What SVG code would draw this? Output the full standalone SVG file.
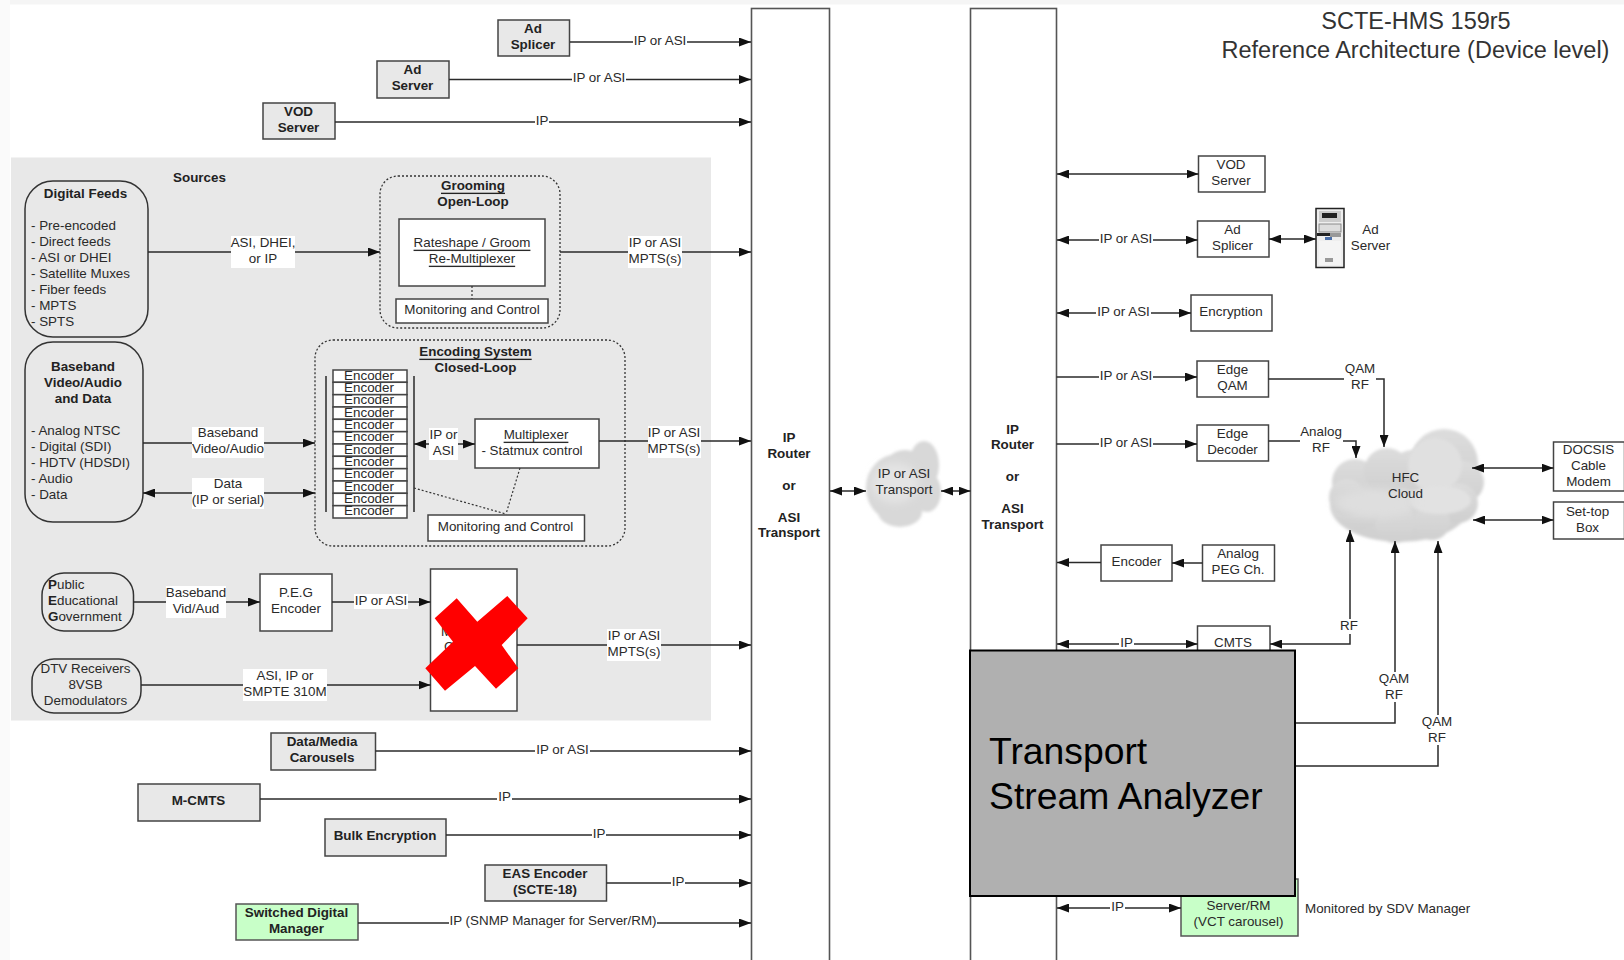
<svg xmlns="http://www.w3.org/2000/svg" width="1624" height="960" viewBox="0 0 1624 960">
<style>
text{font-family:"Liberation Sans",Arial,sans-serif;font-size:13.4px;fill:#2a2a2a;text-anchor:middle;dominant-baseline:central;transform:translateY(-.8px)}
.b{font-weight:700;fill:#222}
.u{text-decoration:underline}
.l{text-anchor:start}
.big{font-size:37.300px;fill:#000;transform:none}
.ttl{font-size:23.500px;fill:#333;transform:none}
.box{fill:#fff;stroke:#444;stroke-width:1.5}
.gbox{fill:#e8e8e8;stroke:#444;stroke-width:1.5}
.green{fill:#c8ffc8;stroke:#555;stroke-width:1.5}
.round{fill:#e8e8e8;stroke:#333;stroke-width:1.5}
.dash{fill:#e8e8e8;stroke:#333;stroke-width:1.3;stroke-dasharray:2 2}
.router{fill:#fff;stroke:#555;stroke-width:1.6}
.c{fill:none;stroke:#2a2a2a;stroke-width:1.5}
.a{marker-end:url(#ah)}
.d{marker-start:url(#ah);marker-end:url(#ah)}
.dot{fill:none;stroke:#333;stroke-width:1.2;stroke-dasharray:2 2}
.bg{fill:#fff}
</style>
<defs>
<marker id="ah" markerUnits="userSpaceOnUse" markerWidth="12" markerHeight="9" refX="12" refY="4.5" orient="auto-start-reverse"><path d="M0,0 L12,4.5 L0,9 z" fill="#111"/></marker>
<filter id="soft" x="-10%" y="-10%" width="120%" height="120%"><feGaussianBlur stdDeviation="1.4"/></filter>
<filter id="softer" x="-20%" y="-20%" width="140%" height="140%"><feGaussianBlur stdDeviation="4"/></filter>
<linearGradient id="cg" x1="0" y1="0" x2="0" y2="1"><stop offset="0" stop-color="#dcdcdc"/><stop offset="1" stop-color="#cfcfcf"/></linearGradient>
</defs>

<rect width="1624" height="960" fill="#fff"/>
<rect width="1624" height="4.500" fill="#f5f5f5"/>
<rect width="10" height="960" fill="#fafafa"/>
<rect id="sources-panel" x="11" y="157.500" width="700" height="563" fill="#e8e8e8"/>

<g id="routers">
<rect id="router-left" class="router" x="751.500" y="8.500" width="78" height="970"/>
<rect id="router-right" class="router" x="970.500" y="8.500" width="86" height="970"/>
<text class="b" x="789" y="438">IP</text><text class="b" x="789" y="454">Router</text><text class="b" x="789" y="486">or</text><text class="b" x="789" y="518">ASI</text><text class="b" x="789" y="533">Transport</text>
<text class="b" x="1012.500" y="430">IP</text><text class="b" x="1012.500" y="445">Router</text><text class="b" x="1012.500" y="477">or</text><text class="b" x="1012.500" y="509">ASI</text><text class="b" x="1012.500" y="525">Transport</text>
</g>

<g id="ad-splicer-left"><rect class="gbox" x="498" y="20" width="71.500" height="36"/><text class="b" x="533" y="29">Ad</text><text class="b" x="533" y="45">Splicer</text></g>
<g id="ad-server-left"><rect class="gbox" x="377" y="61" width="72" height="37"/><text class="b" x="412.500" y="70.500">Ad</text><text class="b" x="412.500" y="86.500">Server</text></g>
<g id="vod-server-left"><rect class="gbox" x="263" y="103" width="72" height="36"/><text class="b" x="298.500" y="112">VOD</text><text class="b" x="298.500" y="128">Server</text></g>

<text class="b" x="199.500" y="178">Sources</text>

<g id="digital-feeds"><rect class="round" x="25" y="181" width="123" height="156" rx="28"/>
<text class="b" x="85.500" y="194">Digital Feeds</text>
<text class="l" x="31" y="226">- Pre-encoded</text><text class="l" x="31" y="242">- Direct feeds</text><text class="l" x="31" y="258">- ASI or DHEI</text><text class="l" x="31" y="274">- Satellite Muxes</text><text class="l" x="31" y="290">- Fiber feeds</text><text class="l" x="31" y="306">- MPTS</text><text class="l" x="31" y="322">- SPTS</text></g>

<g id="grooming"><rect class="dash" x="380" y="176" width="180" height="152" rx="18"/>
<text class="b u" x="473" y="186">Grooming</text><text class="b" x="473" y="202">Open-Loop</text>
<rect class="box" x="399" y="219" width="146" height="67"/><text class="u" x="472" y="243">Rateshape / Groom</text><text class="u" x="472" y="259">Re-Multiplexer</text>
<rect class="box" x="396" y="299" width="152" height="24"/><text x="472" y="310">Monitoring and Control</text></g>

<g id="baseband"><rect class="round" x="25" y="342" width="118" height="180" rx="28"/>
<text class="b" x="83" y="367">Baseband</text><text class="b" x="83" y="383">Video/Audio</text><text class="b" x="83" y="399">and Data</text>
<text class="l" x="31" y="431">- Analog NTSC</text><text class="l" x="31" y="447">- Digital (SDI)</text><text class="l" x="31" y="463">- HDTV (HDSDI)</text><text class="l" x="31" y="479">- Audio</text><text class="l" x="31" y="495">- Data</text></g>

<g id="encoding-system"><rect class="dash" x="315" y="340" width="310" height="206" rx="18"/>
<text class="b u" x="475.500" y="352">Encoding System</text><text class="b" x="475.500" y="368">Closed-Loop</text>
<path class="c" d="M326,376V512M414,376V512"/>
<g id="encoders">
<rect class="box" x="333" y="370" width="74" height="12.300"/><text x="369" y="376">Encoder</text>
<rect class="box" x="333" y="382.300" width="74" height="12.300"/><text x="369" y="388.300">Encoder</text>
<rect class="box" x="333" y="394.700" width="74" height="12.300"/><text x="369" y="400.700">Encoder</text>
<rect class="box" x="333" y="407" width="74" height="12.300"/><text x="369" y="413">Encoder</text>
<rect class="box" x="333" y="419.300" width="74" height="12.300"/><text x="369" y="425.300">Encoder</text>
<rect class="box" x="333" y="431.700" width="74" height="12.300"/><text x="369" y="437.700">Encoder</text>
<rect class="box" x="333" y="444" width="74" height="12.300"/><text x="369" y="450">Encoder</text>
<rect class="box" x="333" y="456.300" width="74" height="12.300"/><text x="369" y="462.300">Encoder</text>
<rect class="box" x="333" y="468.700" width="74" height="12.300"/><text x="369" y="474.700">Encoder</text>
<rect class="box" x="333" y="481" width="74" height="12.300"/><text x="369" y="487">Encoder</text>
<rect class="box" x="333" y="493.300" width="74" height="12.300"/><text x="369" y="499.300">Encoder</text>
<rect class="box" x="333" y="505.700" width="74" height="12.300"/><text x="369" y="511.700">Encoder</text>
</g>
<rect class="box" x="475" y="419" width="124" height="49"/><text class="u" x="536" y="435">Multiplexer</text><text x="532" y="451">- Statmux control</text>
<rect class="box" x="428" y="515" width="156.500" height="26"/><text x="505.500" y="527">Monitoring and Control</text></g>

<g id="peg"><rect class="round" x="42" y="573" width="91.500" height="58" rx="22"/>
<text class="l" x="48" y="585"><tspan class="b">P</tspan>ublic</text><text class="l" x="48" y="601"><tspan class="b">E</tspan>ducational</text><text class="l" x="48" y="617"><tspan class="b">G</tspan>overnment</text></g>
<g id="peg-encoder"><rect class="box" x="260" y="574" width="72" height="57"/><text x="296" y="593">P.E.G</text><text x="296" y="609">Encoder</text></g>
<g id="dtv"><rect class="round" x="32" y="659" width="109" height="54" rx="22"/><text x="85.500" y="669">DTV Receivers</text><text x="85.500" y="685">8VSB</text><text x="85.500" y="701">Demodulators</text></g>
<g id="mux-crossed"><rect class="box" x="430.500" y="569" width="86.500" height="142"/><text class="l" x="441" y="632">M</text><text class="l" x="444" y="647">C</text>
<polygon fill="#f00" points="456.700,598.300 477.300,621.700 507.300,596 527.700,618.300 501.700,645 518.300,668.300 496,688.700 475,666 445,690.700 425.300,668.300 453,641.700 434.700,618.300"/></g>

<g id="data-media"><rect class="gbox" x="271" y="733" width="104.500" height="37"/><text class="b" x="322" y="742.500">Data/Media</text><text class="b" x="322" y="758">Carousels</text></g>
<g id="m-cmts"><rect class="gbox" x="138" y="784" width="122" height="37"/><text class="b" x="198.500" y="801">M-CMTS</text></g>
<g id="bulk-encryption"><rect class="gbox" x="325" y="819" width="121" height="37"/><text class="b" x="385" y="836">Bulk Encryption</text></g>
<g id="eas-encoder"><rect class="gbox" x="485" y="865" width="121.500" height="36"/><text class="b" x="545" y="874">EAS Encoder</text><text class="b" x="545" y="890">(SCTE-18)</text></g>
<g id="sdm"><rect class="green" x="236" y="904" width="122" height="36"/><text class="b" x="296.500" y="913">Switched Digital</text><text class="b" x="296.500" y="929">Manager</text></g>

<g id="transport-cloud"><g filter="url(#soft)" fill="#d8d8d8"><ellipse cx="898" cy="488" rx="32" ry="34"/><ellipse cx="882" cy="490" rx="15" ry="22"/><ellipse cx="924" cy="465" rx="15" ry="24"/><ellipse cx="927" cy="492" rx="14" ry="20"/><ellipse cx="900" cy="512" rx="22" ry="15"/><ellipse cx="905" cy="462" rx="17" ry="12"/></g><ellipse cx="895" cy="483" rx="24" ry="20" fill="#e4e4e4" filter="url(#softer)"/><text x="904" y="474">IP or ASI</text><text x="904" y="490">Transport</text></g>

<g id="hfc-cloud"><g filter="url(#soft)" fill="url(#cg)"><ellipse cx="1400" cy="505" rx="70" ry="37"/><circle cx="1355" cy="482" r="23"/><circle cx="1387" cy="471" r="23"/><circle cx="1412" cy="470" r="20"/><circle cx="1444" cy="463" r="34"/><circle cx="1463" cy="482" r="21"/><circle cx="1458" cy="503" r="20"/><circle cx="1432" cy="522" r="18"/><circle cx="1395" cy="523" r="20"/><circle cx="1360" cy="510" r="20"/><circle cx="1347" cy="497" r="18"/></g>
<circle cx="1435" cy="465" r="27" fill="#e0e0e0" filter="url(#soft)"/><ellipse cx="1440" cy="500" rx="31" ry="14" fill="#e2e2e2" filter="url(#soft)"/><ellipse cx="1375" cy="503" rx="40" ry="15" fill="#dedede" filter="url(#softer)"/>
<text x="1405.500" y="478">HFC</text><text x="1405.500" y="494">Cloud</text></g>

<g id="vod-server"><rect class="box" x="1198.500" y="156" width="66.500" height="36"/><text x="1231" y="165">VOD</text><text x="1231" y="181">Server</text></g>
<g id="ad-splicer"><rect class="box" x="1197.500" y="221" width="71.500" height="36"/><text x="1232.500" y="230">Ad</text><text x="1232.500" y="246">Splicer</text></g>
<g id="ad-server-icon"><rect x="1316" y="208.500" width="28" height="59" fill="#eee" stroke="#222" stroke-width="1.500"/><rect x="1319" y="211" width="22" height="11" fill="#ccc"/><rect x="1322" y="213" width="15" height="5" fill="#222"/><rect x="1319" y="224" width="22" height="8" fill="#ddd" stroke="#777" stroke-width=".8"/><rect x="1317" y="233" width="13" height="3" fill="#222"/><rect x="1330" y="233" width="11" height="4" fill="#999"/><rect x="1325" y="237" width="7" height="3" fill="#4a6ea8"/><rect x="1319" y="241" width="22" height="24" fill="#f4f4f4"/><rect x="1325" y="258" width="8" height="4" fill="#999"/><text x="1370.500" y="230">Ad</text><text x="1370.500" y="246">Server</text></g>
<g id="encryption"><rect class="box" x="1191" y="295" width="81" height="36"/><text x="1231" y="312">Encryption</text></g>
<g id="edge-qam"><rect class="box" x="1197" y="361" width="71.500" height="36"/><text x="1232.500" y="370">Edge</text><text x="1232.500" y="386">QAM</text></g>
<g id="edge-decoder"><rect class="box" x="1197" y="425" width="71.500" height="36"/><text x="1232.500" y="434">Edge</text><text x="1232.500" y="450">Decoder</text></g>
<g id="docsis"><rect class="box" x="1553.500" y="442" width="71" height="49"/><text x="1588.500" y="450">DOCSIS</text><text x="1588.500" y="466">Cable</text><text x="1588.500" y="482">Modem</text></g>
<g id="set-top"><rect class="box" x="1553.500" y="502" width="71" height="37"/><text x="1587.500" y="512">Set-top</text><text x="1587.500" y="528">Box</text></g>
<g id="encoder-right"><rect class="box" x="1101" y="545" width="71" height="36"/><text x="1136.500" y="562">Encoder</text></g>
<g id="analog-peg"><rect class="box" x="1202.500" y="545" width="72" height="36"/><text x="1238" y="554">Analog</text><text x="1238" y="570">PEG Ch.</text></g>
<g id="cmts"><rect class="box" x="1197.500" y="626" width="72.500" height="40"/><text x="1233" y="643">CMTS</text></g>
<g id="sdv-server"><rect class="green" x="1181" y="879" width="117" height="57"/><text x="1238.500" y="906">Server/RM</text><text x="1238.500" y="922">(VCT carousel)</text></g>
<text class="l" x="1305" y="909">Monitored by SDV Manager</text>

<g id="connectors">
<path class="c a" d="M570,42H751"/>
<path class="c a" d="M449,79.500H751"/>
<path class="c a" d="M335,122H751"/>
<path class="c a" d="M148,252H380"/>
<path class="c a" d="M560,252H751"/>
<path class="c a" d="M143,443H315"/>
<path class="c d" d="M143,493H315"/>
<path class="c d" d="M414,444H475"/>
<path class="c a" d="M599,441H751"/>
<path class="dot" d="M472,286V299"/>
<path class="dot" d="M520,468L506,514M414,488L506,514"/>
<path class="c a" d="M133.500,602H260"/>
<path class="c a" d="M332,602H430.500"/>
<path class="c a" d="M141,685H430.500"/>
<path class="c a" d="M517,645H751"/>
<path class="c a" d="M375.500,751H751"/>
<path class="c a" d="M260,799H751"/>
<path class="c a" d="M446,835H751"/>
<path class="c a" d="M606.500,883H751"/>
<path class="c a" d="M358,923H751"/>
<path class="c d" d="M830,491H866"/>
<path class="c d" d="M941,491H970.500"/>
<path class="c d" d="M1057,174H1198.500"/>
<path class="c d" d="M1057,240H1197.500"/>
<path class="c d" d="M1269,239H1316"/>
<path class="c d" d="M1057,313H1191"/>
<path class="c a" d="M1056.500,377H1197"/>
<path class="c a" d="M1268.500,379H1384V447"/>
<path class="c a" d="M1056.500,444H1197"/>
<path class="c a" d="M1268.500,441H1356V458"/>
<path class="c d" d="M1472,468H1553.500"/>
<path class="c d" d="M1473,520H1553.500"/>
<path class="c a" d="M1101,562.500H1057"/>
<path class="c a" d="M1202.500,563H1172"/>
<path class="c d" d="M1057,644H1197.500"/>
<path class="c d" d="M1350,530V644H1270"/>
<path class="c a" d="M1290,723H1395V541"/>
<path class="c a" d="M1290,766H1438V541"/>
<path class="c d" d="M1057,908H1181"/>

<rect class="bg" x="633" y="35" width="54" height="14"/><text x="660" y="41">IP or ASI</text>
<rect class="bg" x="572" y="72" width="54" height="14"/><text x="599" y="78">IP or ASI</text>
<rect class="bg" x="535" y="115" width="14" height="14"/><text x="542" y="121">IP</text>
<rect class="bg" x="231" y="236" width="64" height="32"/><text x="263" y="243">ASI, DHEI,</text><text x="263" y="259">or IP</text>
<rect class="bg" x="628" y="236" width="54" height="32"/><text x="655" y="243">IP or ASI</text><text x="655" y="259">MPTS(s)</text>
<rect class="bg" x="192" y="427" width="72" height="31"/><text x="228" y="433">Baseband</text><text x="228" y="449">Video/Audio</text>
<rect class="bg" x="192" y="478" width="72" height="31"/><text x="228" y="484">Data</text><text x="228" y="500">(IP or serial)</text>
<rect class="bg" x="429" y="428" width="29" height="32"/><text x="443.500" y="435">IP or</text><text x="443.500" y="451">ASI</text>
<rect class="bg" x="648" y="426" width="53" height="32"/><text x="674" y="433">IP or ASI</text><text x="674" y="449">MPTS(s)</text>
<rect class="bg" x="166" y="586" width="60" height="32"/><text x="196" y="593">Baseband</text><text x="196" y="609">Vid/Aud</text>
<rect class="bg" x="354" y="594" width="54" height="15"/><text x="381" y="601">IP or ASI</text>
<rect class="bg" x="243" y="669" width="84" height="32"/><text x="285" y="676">ASI, IP or</text><text x="285" y="692">SMPTE 310M</text>
<rect class="bg" x="607" y="629" width="54" height="32"/><text x="634" y="636">IP or ASI</text><text x="634" y="652">MPTS(s)</text>
<rect class="bg" x="535" y="743" width="55" height="14"/><text x="562.500" y="750">IP or ASI</text>
<rect class="bg" x="497" y="791" width="15" height="14"/><text x="504.500" y="797">IP</text>
<rect class="bg" x="592" y="827" width="14" height="14"/><text x="599" y="834">IP</text>
<rect class="bg" x="671" y="875" width="14" height="14"/><text x="678" y="882">IP</text>
<rect class="bg" x="449" y="914" width="208" height="15"/><text x="553" y="921">IP (SNMP Manager for Server/RM)</text>
<rect class="bg" x="1099" y="233" width="54" height="14"/><text x="1126" y="239">IP or ASI</text>
<rect class="bg" x="1096" y="306" width="55" height="14"/><text x="1123.500" y="312">IP or ASI</text>
<rect class="bg" x="1099" y="370" width="54" height="14"/><text x="1126" y="376">IP or ASI</text>
<rect class="bg" x="1099" y="437" width="54" height="14"/><text x="1126" y="443">IP or ASI</text>
<rect class="bg" x="1344" y="362" width="32" height="30"/><text x="1360" y="369">QAM</text><text x="1360" y="385">RF</text>
<rect class="bg" x="1300" y="425" width="43" height="30"/><text x="1321" y="432">Analog</text><text x="1321" y="448">RF</text>
<rect class="bg" x="1119" y="637" width="15" height="14"/><text x="1126.500" y="643">IP</text>
<rect class="bg" x="1339" y="619" width="20" height="15"/><text x="1349" y="626">RF</text>
<rect class="bg" x="1379" y="672" width="31" height="30"/><text x="1394" y="679">QAM</text><text x="1394" y="695">RF</text>
<rect class="bg" x="1422" y="715" width="31" height="30"/><text x="1437" y="722">QAM</text><text x="1437" y="738">RF</text>
<rect class="bg" x="1110" y="901" width="15" height="14"/><text x="1117.500" y="907">IP</text>
</g>

<g id="transport-stream-analyzer"><rect x="970" y="650.500" width="325" height="245.500" fill="#b0b0b0" stroke="#000" stroke-width="2"/><text class="l big" x="989" y="751">Transport</text><text class="l big" x="989" y="796">Stream Analyzer</text></g>

<g id="title"><text class="ttl" x="1416" y="21">SCTE-HMS 159r5</text><text class="ttl" x="1415.500" y="50">Reference Architecture (Device level)</text></g>
</svg>
